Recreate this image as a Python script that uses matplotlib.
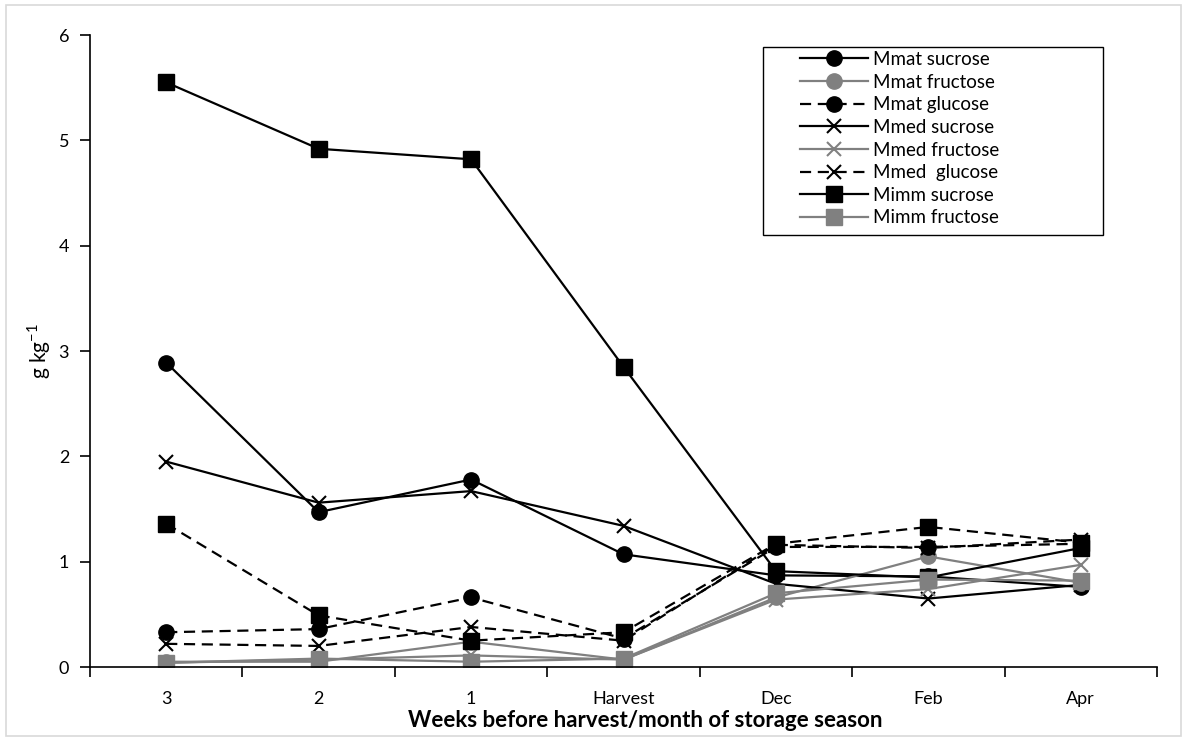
import matplotlib
matplotlib.use("Agg")
import matplotlib.pyplot as plt
from matplotlib.patches import Rectangle

plt.rcParams["font.family"] = ["Lato", "DejaVu Sans"]
plt.rcParams["mathtext.fontset"] = "custom"
plt.rcParams["mathtext.rm"] = "Lato"

categories = ["3", "2", "1", "Harvest", "Dec", "Feb", "Apr"]

mmat_sucrose = [2.89, 1.47, 1.78, 1.07, 0.87, 0.86, 0.76]
mmat_fructose = [0.05, 0.05, 0.24, 0.07, 0.66, 1.05, 0.80]
mmat_glucose = [0.33, 0.36, 0.66, 0.27, 1.14, 1.14, 1.17]
mmed_sucrose = [1.95, 1.56, 1.67, 1.34, 0.79, 0.65, 0.78]
mmed_fructose = [0.04, 0.07, 0.11, 0.07, 0.64, 0.74, 0.97]
mmed_glucose = [0.22, 0.20, 0.38, 0.25, 1.16, 1.13, 1.21]
mimm_sucrose = [5.55, 4.92, 4.82, 2.85, 0.91, 0.85, 1.13]
mimm_fructose = [0.04, 0.08, 0.05, 0.08, 0.70, 0.83, 0.82]
mimm_glucose = [1.36, 0.49, 0.25, 0.33, 1.17, 1.33, 1.18]

BLACK = "#000000"
GREY = "#808080"
DASH = (0, (5, 3))

# (values, label, colour, linestyle, marker)
series = [
    (mmat_sucrose, "Mmat sucrose", BLACK, "-", "o"),
    (mmat_fructose, "Mmat fructose", GREY, "-", "o"),
    (mmat_glucose, "Mmat glucose", BLACK, DASH, "o"),
    (mmed_sucrose, "Mmed sucrose", BLACK, "-", "x"),
    (mmed_fructose, "Mmed fructose", GREY, "-", "x"),
    (mmed_glucose, "Mmed  glucose", BLACK, DASH, "x"),
    (mimm_sucrose, "Mimm sucrose", BLACK, "-", "s"),
    (mimm_fructose, "Mimm fructose", GREY, "-", "s"),
    (mimm_glucose, "_Mimm glucose", BLACK, DASH, "s"),
]

W, H = 1187, 740
fig = plt.figure(figsize=(W / 100, H / 100), dpi=100)
ax = fig.add_axes([90 / W, 1 - 667 / H, 1067 / W, 632 / H])

# light outer frame of the chart area
fig.patches.append(Rectangle((6 / W, 4 / H), 1175 / W, 731 / H,
                             transform=fig.transFigure, fill=False,
                             edgecolor="#d9d9d9", linewidth=1.2))

x = list(range(len(categories)))
handles = []
for vals, label, color, ls, marker in series:
    ms = 10 if marker == "x" else 11
    mew = 1.5 if marker == "x" else 1
    line, = ax.plot(x, vals, color=color, linestyle=ls, linewidth=1.6,
                    marker=marker, markersize=ms, markeredgewidth=mew,
                    markerfacecolor=color, markeredgecolor=color, label=label)
    handles.append(line)

ax.set_xlim(-0.5, len(categories) - 0.5)
ax.set_ylim(0, 6)
ax.set_yticks(range(0, 7))
ax.set_xticks(x)
ax.set_xticklabels(categories)
ax.set_xticks([i - 0.5 for i in range(len(categories) + 1)], minor=True)
ax.tick_params(axis="x", which="major", length=0, labelsize=13, pad=17)
ax.tick_params(axis="x", which="minor", length=7, width=1.2, direction="out")
ax.tick_params(axis="y", length=7, width=1.2, labelsize=13, pad=8)

for side in ("top", "right"):
    ax.spines[side].set_visible(False)
for side in ("left", "bottom"):
    ax.spines[side].set_linewidth(1.2)

ax.set_ylabel("g kg$^{-1}$", fontsize=15, labelpad=4)
ax.set_xlabel("Weeks before harvest/month of storage season",
              fontsize=16, fontweight="bold")
ax.xaxis.set_label_coords((645 - 90) / 1067, -43 / 632)

# legend box drawn separately so the entries sit centred inside it
fig.patches.append(Rectangle((763 / W, 1 - 235 / H), 340 / W, 188 / H,
                             transform=fig.transFigure, fill=False,
                             edgecolor=BLACK, linewidth=1.0, zorder=5))
leg = ax.legend(handles=handles[:8], loc="upper left",
                bbox_to_anchor=((800 - 90) / 1067, (667 - 51) / 632),
                frameon=False, fontsize=13.5, handlelength=3.6,
                handletextpad=0.3, labelspacing=0.3, borderpad=0,
                borderaxespad=0)

fig.savefig("out.png", dpi=100)
